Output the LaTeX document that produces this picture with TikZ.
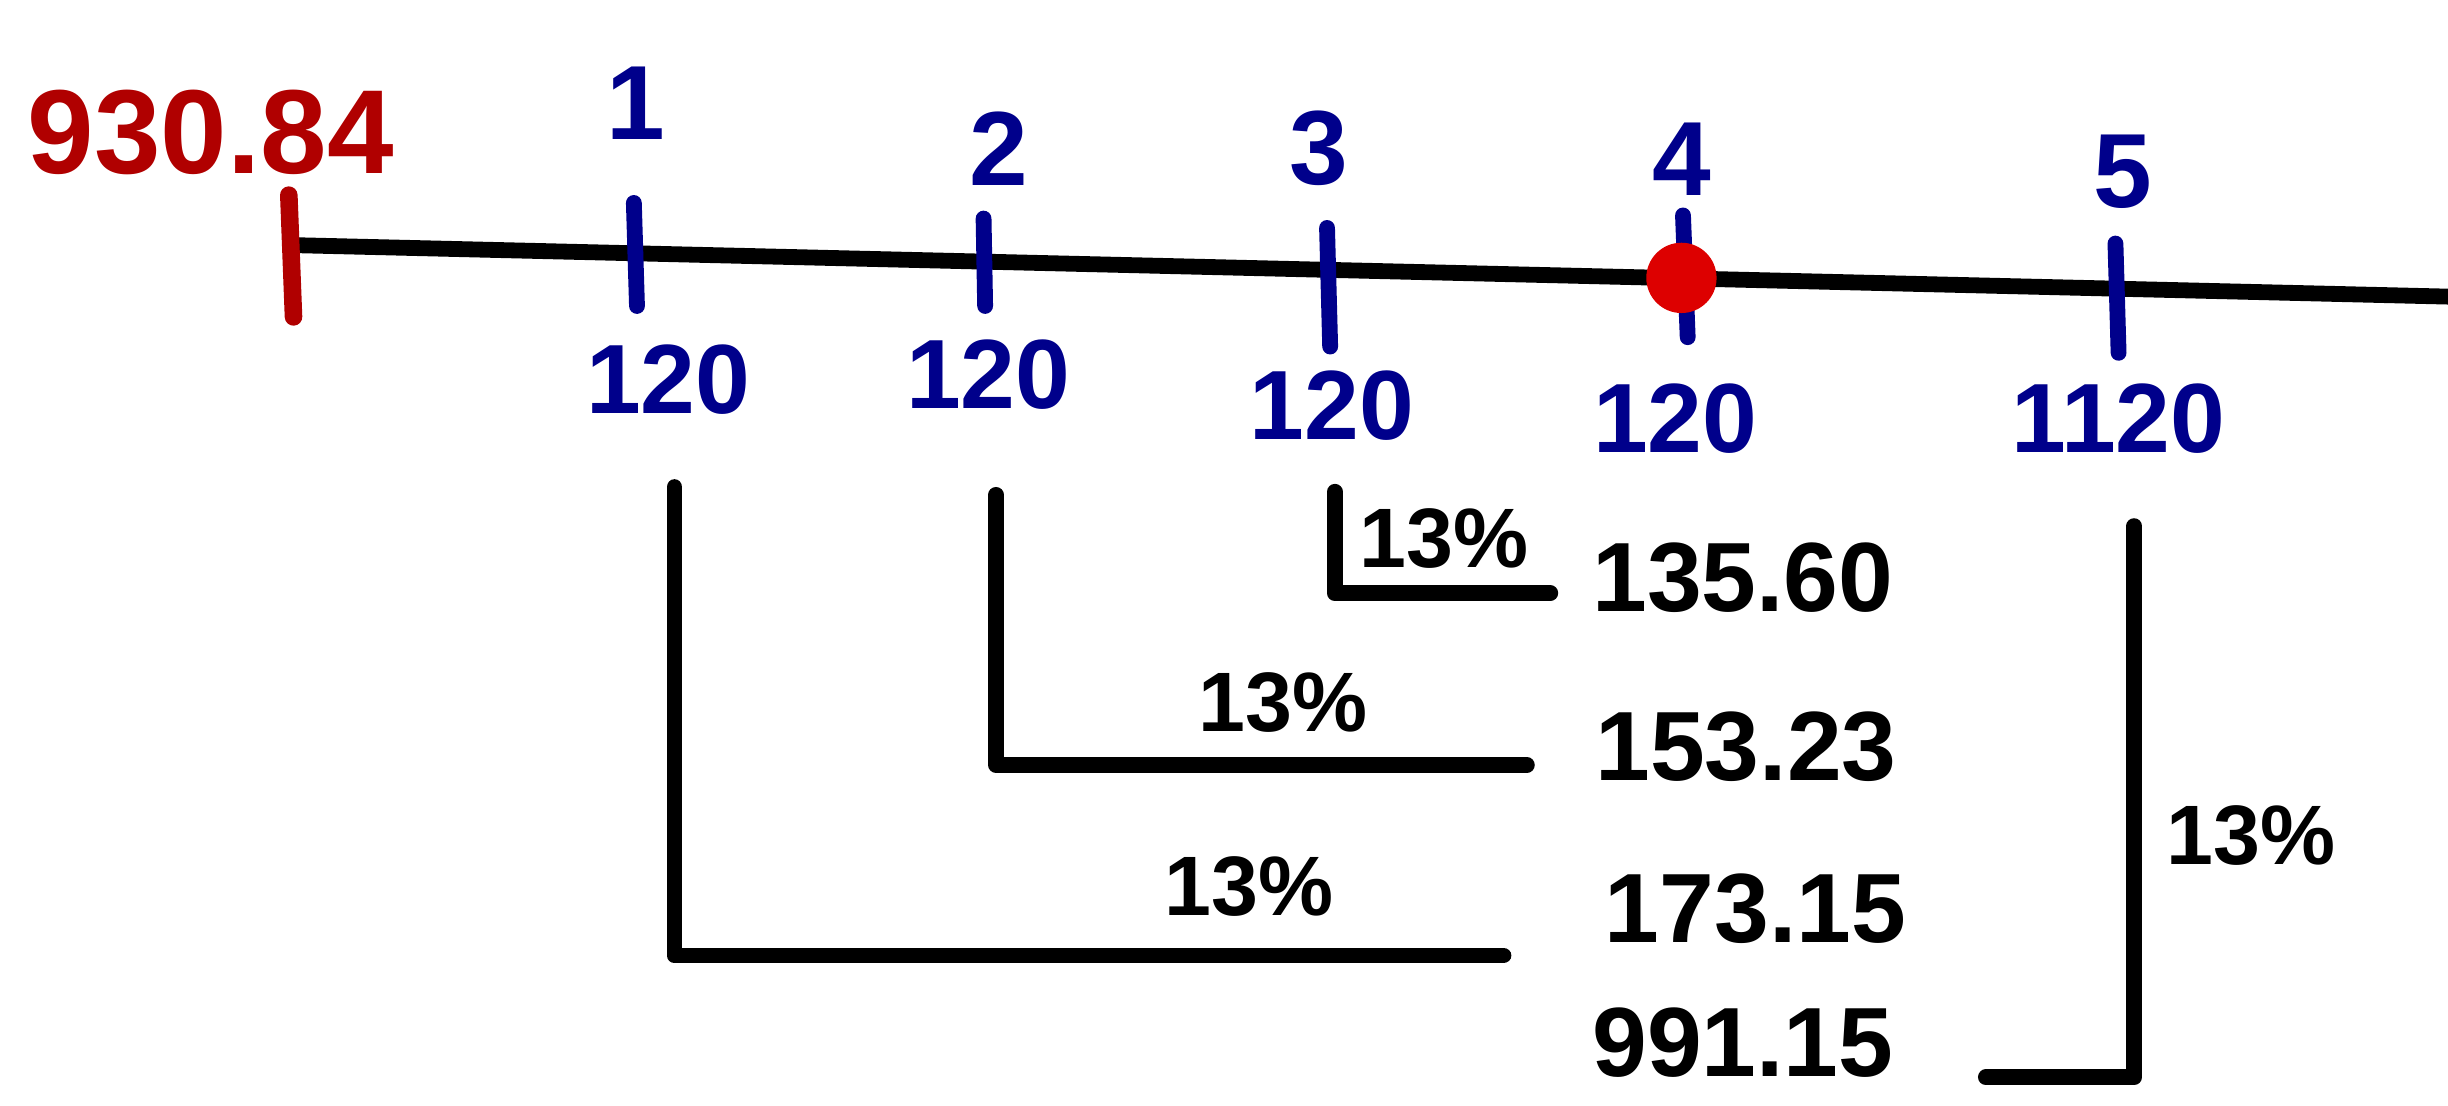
\documentclass[tikz,border=0pt]{standalone}
\usepackage{fontspec}
\setmainfont{Liberation Sans}
\usepackage{xcolor}
\usetikzlibrary{positioning}
\definecolor{inkred}{HTML}{B00000}
\definecolor{inkblue}{HTML}{00008B}
\definecolor{dotred}{HTML}{DD0000}

\begin{document}
\begin{tikzpicture}[
      x=0.015612cm, y=-0.015612cm,
      line cap=round, line join=round,
      bar/.style={line width=4.5pt, black},
      tick/.style={line width=4.5pt, inkblue},
      idx/.style={text=inkblue, font=\fontsize{30}{34}\selectfont\bfseries},
      cash/.style={text=inkblue, font=\fontsize{28}{32}\selectfont\bfseries},
      rate/.style={text=black, font=\fontsize{24}{28}\selectfont\bfseries},
      fv/.style={text=black, anchor=west, font=\fontsize{28}{32}\selectfont\bfseries}
    ]
    \useasboundingbox (0,0) rectangle (1568,708);

    % time line
    \coordinate (t0) at (187,157);
    \coordinate (tend) at (1568,190);
    \draw[bar] (t0) -- (tend);

    % present value
    \coordinate (t0a) at (185,125);
    \coordinate (t0b) at (188,203);
    \draw[line width=5pt, inkred] (t0a) -- (t0b);
    \node[text=inkred, font=\fontsize{34}{38}\selectfont\bfseries] (pv) at (135,85) {930.84};

    % periods
    \coordinate (p1a) at (406,130); \coordinate (p1b) at (408,196);
    \coordinate (p2a) at (630,140); \coordinate (p2b) at (631,196);
    \coordinate (p3a) at (850,146); \coordinate (p3b) at (852,222);
    \coordinate (p4a) at (1078,138); \coordinate (p4b) at (1081,216);
    \coordinate (p5a) at (1355,156); \coordinate (p5b) at (1357,226);
    \draw[tick] (p1a) -- (p1b);
    \draw[tick] (p2a) -- (p2b);
    \draw[tick] (p3a) -- (p3b);
    \draw[tick] (p4a) -- (p4b);
    \draw[tick] (p5a) -- (p5b);
    \node[circle, fill=dotred, inner sep=0pt, minimum size=20pt] (now) at (1077,178) {};

    \node[idx] (n1) at (407,66) {1};
    \node[idx] (n2) at (640,95) {2};
    \node[idx] (n3) at (845,95) {3};
    \node[idx] (n4) at (1077,102) {4};
    \node[idx] (n5) at (1360,110) {5};

    \node[cash] (c1) at (428,243) {120};
    \node[cash] (c2) at (633,240) {120};
    \node[cash] (c3) at (853,260) {120};
    \node[cash] (c4) at (1073,268) {120};
    \node[cash] (c5) at (1357,268) {1120};

    % discounting
    \coordinate (d3top) at (855,315);
    \coordinate (d3end) at (993,380);
    \coordinate (d2top) at (638,317);
    \coordinate (d2end) at (978,490);
    \coordinate (d1top) at (432,312);
    \coordinate (d1end) at (963,612);
    \coordinate (d5top) at (1367,337);
    \coordinate (d5end) at (1272,690);
    \draw[bar] (d3top) |- (d3end);
    \draw[bar] (d2top) |- (d2end);
    \draw[bar] (d1top) |- (d1end);
    \draw[bar] (d5top) |- (d5end);

    \node[rate] (r3) at (925,345) {13\%};
    \node[rate] (r2) at (822,450) {13\%};
    \node[rate] (r1) at (800,568) {13\%};
    \node[rate] (r5) at (1442,535) {13\%};

    \node[fv] (v3) at (1012,370) {135.60};
    \node[fv] (v2) at (1014,478) {153.23};
    \node[fv] (v1) at (1020,582) {173.15};
    \node[fv] (v5) at (1012,668) {991.15};
  \end{tikzpicture}
\end{document}
